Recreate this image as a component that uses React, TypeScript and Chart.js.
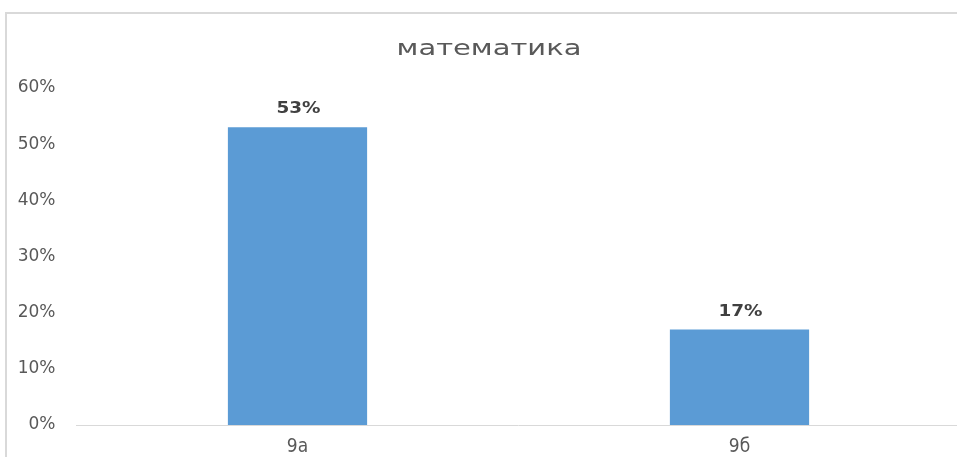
import React, { useEffect, useRef } from "react";
import { Chart, registerables } from "chart.js";

Chart.register(...registerables);

const titleText = "математика";
const categories = ["9а", "9б"];
const values = [0.53, 0.17];
const yTicks = [0, 0.1, 0.2, 0.3, 0.4, 0.5, 0.6];

const barColor = "#5b9bd5";
const axisColor = "#d9d9d9";
const textGray = "#595959";
const labelDark = "#404040";

const titlePlugin = {
  id: "stretchedTitle",
  afterDraw(chart: any) {
    const ctx = chart.ctx;
    ctx.save();
    ctx.font = "21px 'DejaVu Sans', sans-serif";
    ctx.fillStyle = textGray;
    ctx.textAlign = "center";
    ctx.textBaseline = "alphabetic";
    ctx.translate(chart.width / 2, 55);
    ctx.scale(1.38, 1);
    ctx.fillText(titleText, 0, 0);
    ctx.restore();
  },
};

const dataLabelPlugin = {
  id: "dataLabels",
  afterDatasetsDraw(chart: any) {
    const ctx = chart.ctx;
    const meta = chart.getDatasetMeta(0);
    ctx.save();
    ctx.font = "bold 16px 'DejaVu Sans', sans-serif";
    ctx.fillStyle = labelDark;
    ctx.textAlign = "center";
    ctx.textBaseline = "alphabetic";
    meta.data.forEach((bar: any, i: number) => {
      const v = chart.data.datasets[0].data[i] as number;
      ctx.save();
      ctx.translate(bar.x + 1, bar.y - 14);
      ctx.scale(1.15, 1);
      ctx.fillText(Math.round(v * 100) + "%", 0, 0);
      ctx.restore();
    });
    ctx.restore();
  },
};

export default function App() {
  const ref = useRef<HTMLCanvasElement | null>(null);

  useEffect(() => {
    document.body.style.margin = "0";
    document.documentElement.style.overflow = "hidden";
    if (!ref.current) return;
    const chart = new Chart(ref.current, {
      type: "bar",
      data: {
        labels: categories,
        datasets: [
          {
            data: values,
            backgroundColor: barColor,
            barPercentage: 0.315,
            categoryPercentage: 1,
          },
        ],
      },
      plugins: [dataLabelPlugin, titlePlugin],
      options: {
        animation: false,
        responsive: false,
        devicePixelRatio: 1,
        layout: { padding: { left: 0, right: 17.5, top: 88, bottom: 0 } },
        plugins: {
          legend: { display: false },
          tooltip: { enabled: false },
          title: { display: false },
        },
        scales: {
          x: {
            grid: { display: false, drawTicks: false },
            border: { display: true, color: axisColor, width: 1 },
            ticks: {
              color: textGray,
              padding: 11,
              font: { family: "'Liberation Sans Narrow', 'DejaVu Sans Condensed', sans-serif", size: 19 },
            },
            afterFit(scale: any) {
              scale.height = 32;
            },
          },
          y: {
            min: 0,
            max: 0.6,
            grid: { display: false, drawTicks: false },
            border: { display: false },
            afterBuildTicks(scale: any) {
              scale.ticks = yTicks.map((v) => ({ value: v }));
            },
            ticks: {
              color: textGray,
              padding: 21,
              font: { family: "'DejaVu Sans', sans-serif", size: 17 },
              callback: (v: any) => Math.round(Number(v) * 100) + "%",
            },
            afterFit(scale: any) {
              scale.width = 76.5;
            },
          },
        },
      },
    });
    return () => chart.destroy();
  }, []);

  return (
    <div style={{ position: "fixed", left: 0, top: 0, width: 957, height: 457, overflow: "hidden", background: "#fff" }}>
      <div
        style={{
          position: "absolute",
          left: 5,
          top: 12,
          width: 1000,
          height: 500,
          borderLeft: "2px solid " + axisColor,
          borderTop: "2px solid " + axisColor,
        }}
      />
      <canvas ref={ref} width={978} height={457} style={{ position: "absolute", left: 0, top: 0 }} />
    </div>
  );
}
